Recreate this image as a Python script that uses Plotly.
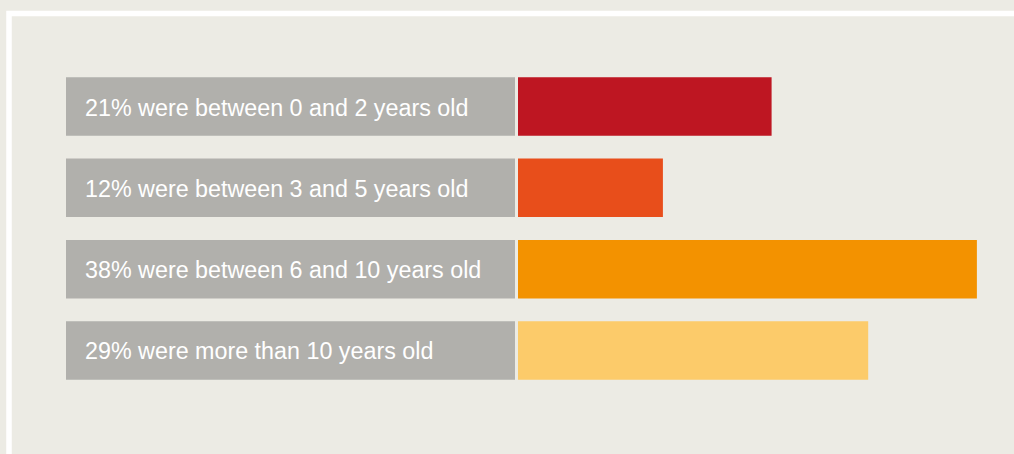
import plotly.graph_objects as go

labels = [
    "21% were between 0 and 2 years old",
    "12% were between 3 and 5 years old",
    "38% were between 6 and 10 years old",
    "29% were more than 10 years old",
]
shares = [21, 12, 38, 29]
colors = ["#BE1622", "#E84E1B", "#F39200", "#FCCB6A"]
panel = [1, 1, 1, 1]

W, H = 1014, 454
BG = "#ECEBE4"
cats = list(range(len(labels)))

fig = go.Figure()
fig.add_trace(go.Bar(
    y=cats, x=panel, orientation="h", xaxis="x", yaxis="y",
    marker=dict(color="#B1B0AC", line=dict(width=0)),
    hoverinfo="skip", showlegend=False,
))
fig.add_trace(go.Bar(
    y=cats, x=shares, orientation="h", xaxis="x2", yaxis="y",
    marker=dict(color=colors, line=dict(width=0)),
    hovertext=labels, hoverinfo="text", showlegend=False,
))

for c, lab in zip(cats, labels):
    fig.add_annotation(
        x=83 / W, xref="paper", y=c, yref="y", yshift=-1, text=lab, showarrow=False,
        xanchor="left", yanchor="middle",
        font=dict(family="Liberation Sans, Arial, sans-serif", size=23.3, color="white"),
    )

fig.add_shape(
    type="rect", xref="paper", yref="paper",
    x0=9 / W, x1=1.05, y0=-0.05, y1=1 - 13.5 / H,
    line=dict(color="white", width=5.5), fillcolor="rgba(0,0,0,0)", layer="below",
)

px_per_unit = 12.076
fig.update_layout(
    width=W, height=H,
    margin=dict(l=0, r=0, t=0, b=0, pad=0),
    paper_bgcolor=BG, plot_bgcolor=BG,
    bargap=0.28,
    xaxis=dict(domain=[66 / W, 515 / W], range=[0, 1], visible=False, fixedrange=True),
    xaxis2=dict(domain=[518 / W, 1], range=[0, (W - 518) / px_per_unit],
                visible=False, fixedrange=True),
    yaxis=dict(domain=[1 - 391.15 / H, 1 - 65.85 / H], range=[3.5, -0.5],
               visible=False, fixedrange=True),
    barmode="overlay",
)

fig.write_html("out.html")
